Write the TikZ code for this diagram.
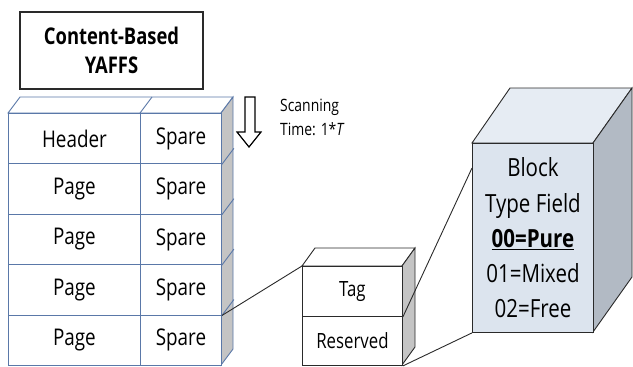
\documentclass[tikz,border=0pt]{standalone}
\usepackage{fontspec}
\setmainfont{Open Sans}
\newfontfamily\cellfont[FakeStretch=0.82]{Open Sans}
\newfontfamily\titlefont[FakeStretch=0.80]{Open Sans}
\newfontfamily\tagfont[FakeStretch=0.80]{Open Sans}
\definecolor{gridblue}{HTML}{5A78A8}
\definecolor{sidegray}{HTML}{C4C4C4}
\definecolor{darkline}{HTML}{2A2A2A}
\definecolor{bigfront}{HTML}{DCE4EE}
\definecolor{bigtop}{HTML}{E6ECF3}
\definecolor{bigside}{HTML}{B2BAC4}
\tikzset{
  cellbox/.style={draw=gridblue, line width=0.9pt, fill=white, inner sep=0pt,
    anchor=north west, font=\cellfont\fontsize{23}{26}\selectfont},
  tagbox/.style={draw=darkline, line width=0.9pt, fill=white, inner sep=0pt,
    anchor=north west, minimum width=100pt, font=\tagfont\fontsize{21}{24}\selectfont},
  link/.style={draw=darkline, line width=0.9pt},
}
\begin{document}
\begin{tikzpicture}[x=1pt,y=-1pt]
\useasboundingbox (0,0) rectangle (633,367);
% title
\node[draw=darkline, line width=1.3pt, minimum width=183pt, minimum height=77pt,
  align=center, font=\titlefont\bfseries\fontsize{23}{29}\selectfont, inner sep=0pt]
  (title) at (111.5,50.5) {Content-Based\\YAFFS};
% left stack top and side faces
\draw[gridblue, line width=0.9pt, fill=white] (8,113) -- (20,97) -- (233,97) -- (221,113) -- cycle;
\draw[gridblue, line width=0.9pt] (140,113) -- (152,97);
\draw[gridblue, line width=0.9pt, fill=sidegray] (221,113) -- (233,97) -- (233,349) -- (221,365) -- cycle;
% cells
\node[cellbox, minimum width=132pt, minimum height=50.4pt] (c1) at (8,113) {Header};
\node[cellbox, minimum width=81pt, minimum height=50.4pt] (s1) at (140,113) {Spare};
\node[cellbox, minimum width=132pt, minimum height=50.4pt] (c2) at (8,163.4) {Page};
\node[cellbox, minimum width=81pt, minimum height=50.4pt] (s2) at (140,163.4) {Spare};
\node[cellbox, minimum width=132pt, minimum height=50.4pt] (c3) at (8,213.8) {Page};
\node[cellbox, minimum width=81pt, minimum height=50.4pt] (s3) at (140,213.8) {Spare};
\node[cellbox, minimum width=132pt, minimum height=50.4pt] (c4) at (8,264.2) {Page};
\node[cellbox, minimum width=81pt, minimum height=50.4pt] (s4) at (140,264.2) {Spare};
\node[cellbox, minimum width=132pt, minimum height=50.4pt] (c5) at (8,314.6) {Page};
\node[cellbox, minimum width=81pt, minimum height=50.4pt] (s5) at (140,314.6) {Spare};
\foreach \n in {1,2,3,4}{
  \draw[gridblue, line width=0.9pt] (s\n.south east) -- ++(12,-16);
}
% scanning arrow
\draw[black, line width=1.2pt, line join=miter]
  (245,97) -- (255,97) -- (255,132) -- (261,132) -- (249,147) -- (237,132) -- (245,132) -- cycle;
\node[anchor=west, align=left, inner sep=0pt, font=\cellfont\fontsize{17}{24}\selectfont]
  (scan) at (280,117) {Scanning\\Time: 1*\textit{T}};
% tag block
\draw[darkline, line width=0.9pt, fill=white] (302,266) -- (315,248) -- (415,248) -- (402,266) -- cycle;
\draw[darkline, line width=0.9pt, fill=sidegray] (402,266) -- (415,248) -- (415,347) -- (402,365) -- cycle;
\node[tagbox, minimum height=50pt] (tag) at (302,266) {Tag};
\node[tagbox, minimum height=49pt] (res) at (302,316) {Reserved};
% big block
\draw[darkline, line width=0.9pt, fill=bigtop] (472,143) -- (510,88) -- (632,88) -- (593,143) -- cycle;
\draw[darkline, line width=0.9pt, fill=bigside] (593,143) -- (632,88) -- (632,277) -- (593,332) -- cycle;
\node[draw=darkline, line width=0.9pt, fill=bigfront, anchor=north west,
  minimum width=121pt, minimum height=189pt, inner sep=0pt, align=center,
  font=\cellfont\fontsize{25}{35.3}\selectfont] (big) at (472,143)
  {Block\\Type Field\\\underline{\textbf{00=Pure}}\\01=Mixed\\02=Free};
\coordinate (bigL) at (472,168);
% connectors
\draw[link] (s4.south east) -- (tag.north west);
\draw[link] (tag.south east) -- (bigL);
\draw[link] (res.south east) -- (big.south west);
\end{tikzpicture}
\end{document}
